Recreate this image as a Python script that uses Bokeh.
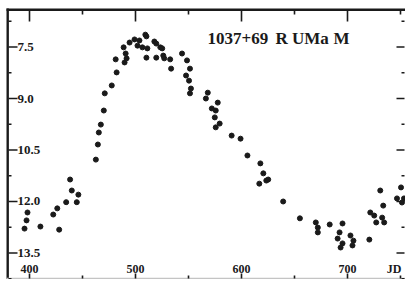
from bokeh.plotting import figure
from bokeh.models import Range1d
from bokeh.core.properties import value
from bokeh.embed import file_html
from bokeh.resources import INLINE

# ---- data: R UMa light curve (day number, visual magnitude)
jd = [395.3, 397.2, 398.1, 410.3, 422.4, 426.2, 428.0, 434.6, 444.6, 439.9, 446.1, 438.3,
      462.6, 464.5, 465.4, 467.3, 470.1, 471.0, 477.6, 482.2, 481.3,
      488.8, 490.7, 489.7, 491.6, 494.4, 499.1, 501.9, 503.7, 509.3, 510.3, 506.5, 511.2,
      510.3, 517.8, 519.6, 519.6, 523.4, 525.2, 526.2, 527.1, 532.7, 533.6,
      543.9, 547.7, 548.6, 550.5, 551.4, 552.3, 551.4,
      568.2, 566.4, 577.6, 572.0, 575.7, 574.8, 579.4, 575.7, 590.7, 599.1,
      605.6, 617.8, 620.6, 623.4, 616.8, 625.2, 639.3,
      655.1, 670.1, 672.0, 672.0, 683.2, 695.3, 692.5, 690.7, 695.3, 693.5,
      702.8, 705.6, 704.7, 720.6, 721.5, 725.2, 727.1, 733.7, 732.7, 734.6,
      730.9, 746.7, 751.4, 750.5, 753.3]
mag = [12.79, 12.55, 12.32, 12.73, 12.38, 12.20, 12.82, 12.02, 12.02, 11.68, 11.80, 11.36,
       10.78, 10.34, 9.99, 9.76, 9.35, 8.85, 8.62, 8.24, 7.86,
       7.51, 7.69, 7.95, 7.83, 7.37, 7.28, 7.46, 7.31, 7.14, 7.19, 7.51, 7.54,
       7.81, 7.34, 7.40, 7.81, 7.51, 7.54, 7.75, 7.83, 7.86, 8.13,
       7.69, 8.33, 7.89, 8.48, 8.13, 8.71, 8.85,
       8.83, 9.00, 9.12, 9.29, 9.35, 9.55, 9.73, 9.84, 10.08, 10.17,
       10.66, 10.89, 11.18, 11.39, 11.48, 11.36, 12.00,
       12.49, 12.61, 12.76, 12.90, 12.67, 12.64, 12.90, 13.08, 13.22, 13.34,
       12.99, 13.14, 13.28, 13.11, 12.32, 12.41, 12.61, 12.12, 12.47, 12.61,
       11.68, 11.91, 12.03, 11.59, 11.91]

x_major = [400, 500, 600, 700]
x_minor = [450, 550, 650, 750]
x_labels = ["400", "500", "600", "700"]
x_unit = "JD"
y_major = [7.5, 9.0, 10.5, 12.0, 13.5]
y_minor = [6.75, 8.25, 9.75, 11.25, 12.75, 14.25]
y_labels = ["7.5", "9.0", "10.5", "12.0", "13.5"]
title_parts = ["1037+69", "R UMa", "M"]

SERIF = value("Liberation Serif")
INK = "#1a1a1a"
W, H = 405, 279
X0, X1 = 372.64, 754.72            # frame fills the whole canvas
YB, YT = 14.272, 6.1455
PX = (X1 - X0) / W                 # data units per pixel, x
PY = (YB - YT) / H                 # data units per pixel, y


def sx(px):   # canvas pixel -> data x (for styling positions only)
    return X0 + px * PX


def sy(py):   # canvas pixel -> data y (for styling positions only)
    return YT + py * PY


p = figure(width=W, height=H,
           x_range=Range1d(X0, X1), y_range=Range1d(YB, YT),
           toolbar_location=None, output_backend="svg", min_border=0)
p.axis.visible = False
p.grid.grid_line_color = None
p.outline_line_color = None
p.background_fill_color = "white"
p.border_fill_color = "white"

# frame rules drawn a few pixels inside the canvas: heavy left and top, faint bottom
LEFT, TOP, RIGHT, BOTTOM = 6.0, 8.0, 404.0, 278.0
p.quad(left=[sx(LEFT)], right=[sx(LEFT + 2.4)], top=[sy(TOP)], bottom=[sy(BOTTOM + 0.5)],
       fill_color=INK, line_color=None)
p.quad(left=[sx(LEFT)], right=[sx(RIGHT + 0.5)], top=[sy(TOP)], bottom=[sy(TOP + 2.4)],
       fill_color=INK, line_color=None)
p.quad(left=[sx(LEFT)], right=[sx(RIGHT + 0.5)], top=[sy(BOTTOM - 0.7)], bottom=[sy(BOTTOM + 0.5)],
       fill_color="#c4c4c4", line_color=None)


def hticks(x_from, x_to, ys):
    n = len(ys)
    p.quad(left=[sx(x_from)] * n, right=[sx(x_to)] * n,
           top=[y - 0.8 * PY for y in ys], bottom=[y + 0.8 * PY for y in ys],
           fill_color=INK, line_color=None)


def vticks(y_from, y_to, xs):
    n = len(xs)
    p.quad(left=[x - 0.8 * PX for x in xs], right=[x + 0.8 * PX for x in xs],
           top=[sy(y_from)] * n, bottom=[sy(y_to)] * n,
           fill_color=INK, line_color=None)


hticks(LEFT + 2, LEFT + 11, y_major)
hticks(LEFT + 2, LEFT + 5, y_minor)
hticks(RIGHT - 8, RIGHT, y_major)
hticks(RIGHT - 3, RIGHT, y_minor)
vticks(TOP + 2, TOP + 13, x_major)
vticks(TOP + 2, TOP + 6, x_minor)
vticks(BOTTOM - 5, BOTTOM, x_major)
vticks(BOTTOM - 3, BOTTOM, x_minor)

# observations
p.scatter(jd, mag, size=5, color=INK)

# tick labels drawn inside the frame, as in the original
p.text(x=[sx(17)] * len(y_major), y=y_major, text=y_labels,
       text_font=SERIF, text_font_style="bold", text_font_size="13px",
       text_align="left", text_baseline="middle", text_color=INK)
p.text(x=x_major, y=[sy(268)] * len(x_major), text=x_labels,
       text_font=SERIF, text_font_style="bold", text_font_size="12px",
       text_align="center", text_baseline="middle", text_color=INK)
p.text(x=[sx(393.5)], y=[sy(268)], text=[x_unit],
       text_font=SERIF, text_font_style="bold", text_font_size="12px",
       text_align="center", text_baseline="middle", text_color=INK)
p.text(x=[sx(207), sx(275), sx(333)], y=[sy(37.5)] * 3, text=title_parts,
       text_font=SERIF, text_font_style="bold", text_font_size="17px",
       text_align="left", text_baseline="middle", text_color=INK)

open("out.html", "w").write(file_html(p, INLINE))
